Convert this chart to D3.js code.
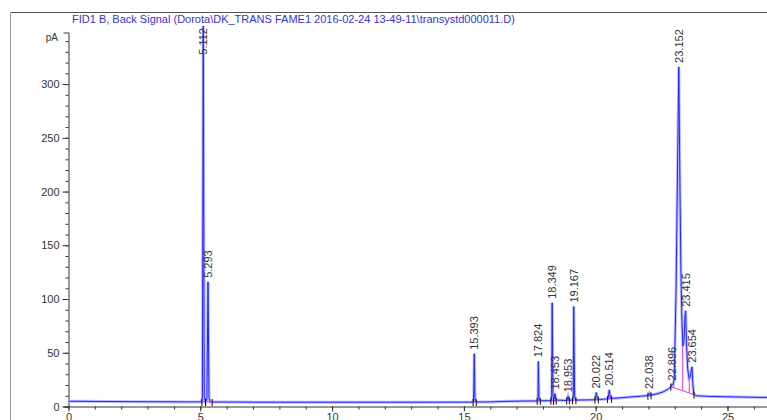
<!DOCTYPE html>
<html>
<head>
<meta charset="utf-8">
<script src="https://cdn.jsdelivr.net/npm/d3@7"></script>
<style>
  body { margin: 0; background: #fff; }
  svg { display: block; font-family: "Liberation Sans", Arial, sans-serif; }
</style>
</head>
<body>
<script>
// chromatogram: [time (min), signal (pA)]
var trace = [
  [0.0, 4.9], [0.5, 4.8], [1.5, 4.6], [2.5, 4.5], [3.5, 4.4], [4.5, 4.3], [5.05, 4.3],
  [5.08, 8], [5.112, 360], [5.15, 10], [5.19, 4.6], [5.25, 6], [5.293, 116], [5.33, 8], [5.38, 4.4], [5.5, 4.2],
  [6.5, 4.1], [8, 4.0], [10, 4.0], [12, 4.0], [13.5, 4.0], [15.34, 4.1],
  [15.37, 6], [15.393, 49], [15.42, 6], [15.47, 4.2], [16, 4.3], [16.5, 4.7], [17, 5.0], [17.4, 5.1], [17.79, 5.2],
  [17.81, 8], [17.824, 42], [17.85, 7], [17.9, 5.3], [18.31, 5.4],
  [18.33, 10], [18.349, 96.5], [18.38, 9], [18.42, 7], [18.453, 12], [18.49, 6], [18.88, 5.6],
  [18.92, 6.5], [18.953, 9.5], [18.99, 6], [19.13, 5.8], [19.15, 10], [19.167, 93], [19.2, 9], [19.25, 6.0],
  [19.6, 6.1], [19.98, 6.3], [20.022, 13], [20.07, 6.6], [20.3, 6.8], [20.47, 7.1], [20.514, 15.5], [20.56, 7.5],
  [20.9, 8.0], [21.3, 8.8], [21.7, 9.6], [22.0, 10.2], [22.038, 12.5], [22.08, 10.5], [22.3, 11.6], [22.55, 13.5],
  [22.75, 16.2], [22.87, 18.8], [22.896, 20.5], [22.94, 20.8], [22.98, 26],
  [23.05, 110], [23.152, 316], [23.19, 220], [23.23, 130], [23.27, 80], [23.31, 56], [23.35, 62], [23.39, 85],
  [23.415, 89], [23.44, 60], [23.49, 35], [23.54, 26], [23.58, 27], [23.62, 33], [23.654, 37], [23.68, 22],
  [23.72, 12], [23.8, 10], [24.2, 9.5], [25, 9.0], [26, 8.6], [27, 8.3], [28, 8.1]
];

// peak table
var peakRT   = [5.112, 5.293, 15.393, 17.824, 18.349, 18.453, 18.953, 19.167, 20.022, 20.514, 22.038, 22.896, 23.152, 23.415, 23.654];
var peakApex = [360, 116, 49, 42, 96.5, 12, 9.5, 93, 13, 15.5, 12.5, 20.5, 316, 89, 37];

// integration baselines (pink) with start/end marks
var baseT0 = [5.06, 5.2, 15.35, 17.78, 18.3, 18.4, 18.9, 19.12, 19.97, 20.45, 21.98, 22.85];
var baseV0 = [4.3, 4.3, 4.1, 5.2, 5.3, 5.4, 5.6, 5.8, 6.3, 7.0, 10.0, 18.5];
var baseT1 = [5.2, 5.45, 15.47, 17.9, 18.4, 18.5, 19.0, 19.25, 20.1, 20.6, 22.1, 23.73];
var baseV1 = [4.3, 4.2, 4.1, 5.2, 5.4, 5.5, 5.7, 5.9, 6.5, 7.3, 10.5, 11.0];

// drop lines splitting the fused peaks
var dropT    = [22.96, 23.30, 23.55];
var dropBase = [17.6, 14.9, 12.8];
var dropTop  = [20.5, 56, 26];

var xTicks = [0, 5, 10, 15, 20, 25];
var yTicks = [0, 50, 100, 150, 200, 250, 300];

var title = "FID1 B, Back Signal (Dorota\\DK_TRANS FAME1 2016-02-24 13-49-11\\transystd000011.D)";

var width = 767, height = 420;

var svg = d3.select("body").append("svg")
    .attr("width", width)
    .attr("height", height);

// outer frame
svg.append("line").attr("x1", 10).attr("x2", width).attr("y1", 12.5).attr("y2", 12.5)
    .attr("stroke", "#555").attr("stroke-width", 1);
svg.append("line").attr("x1", 10.5).attr("x2", 10.5).attr("y1", 12).attr("y2", height)
    .attr("stroke", "#999").attr("stroke-width", 1);

svg.append("text")
    .attr("x", 72).attr("y", 23)
    .attr("fill", "#3434d0")
    .style("font-size", "11px")
    .text(title);

var x = d3.scaleLinear().domain([0, 28]).range([68.5, 68.5 + 28 * 26.36]),
    y = d3.scaleLinear().domain([0, 348]).range([406.5, 32.5]);

// y axis
svg.append("g")
    .attr("transform", "translate(" + 68.5 + ",0)")
    .call(d3.axisLeft(y).tickValues(d3.range(0, 341, 10)).tickSize(3).tickSizeOuter(0).tickFormat(""))
    .call(function(g) { g.select(".domain").remove(); });

var yAxis = svg.append("g")
    .attr("transform", "translate(" + 68.5 + ",0)")
    .call(d3.axisLeft(y).tickValues(yTicks).tickSize(6).tickSizeOuter(5).tickPadding(3));
yAxis.selectAll("text").style("font-size", "11px").attr("fill", "#333");

svg.append("text")
    .attr("x", 58).attr("y", 41)
    .attr("text-anchor", "end")
    .attr("fill", "#333")
    .style("font-size", "10px")
    .text("pA");

// x axis
svg.append("g")
    .attr("transform", "translate(0," + 406.5 + ")")
    .call(d3.axisBottom(x).tickValues(d3.range(0, 29, 1)).tickSize(3).tickSizeOuter(0).tickFormat(""))
    .call(function(g) { g.select(".domain").remove(); });

var xAxis = svg.append("g")
    .attr("transform", "translate(0," + 406.5 + ")")
    .call(d3.axisBottom(x).tickValues(xTicks).tickSize(5).tickSizeOuter(0).tickPadding(2));
xAxis.selectAll("text").style("font-size", "11px").attr("fill", "#333");

svg.selectAll(".domain, .tick line").attr("stroke", "#333");

// signal
svg.append("clipPath").attr("id", "plot")
  .append("rect").attr("x", 11).attr("y", 26).attr("width", width).attr("height", 381);

var line = d3.line()
    .x(function(d) { return x(d[0]); })
    .y(function(d) { return y(d[1]); });

var sig = svg.append("g").attr("clip-path", "url(#plot)");

sig.append("path").datum(trace)
    .attr("d", line)
    .attr("fill", "none")
    .attr("stroke", "#b9bcff")
    .attr("stroke-width", 3);

sig.append("path").datum(trace)
    .attr("d", line)
    .attr("fill", "none")
    .attr("stroke", "#2424ff")
    .attr("stroke-width", 1);

// integration baselines
sig.selectAll(".base")
    .data(baseT0)
  .enter().append("line")
    .attr("class", "base")
    .attr("x1", function(d) { return x(d); })
    .attr("y1", function(d, i) { return y(baseV0[i]); })
    .attr("x2", function(d, i) { return x(baseT1[i]); })
    .attr("y2", function(d, i) { return y(baseV1[i]); })
    .attr("stroke", "#ee33cc")
    .attr("stroke-width", 1);

sig.selectAll(".drop")
    .data(dropT)
  .enter().append("line")
    .attr("class", "drop")
    .attr("x1", function(d) { return x(d); })
    .attr("x2", function(d) { return x(d); })
    .attr("y1", function(d, i) { return y(dropBase[i]); })
    .attr("y2", function(d, i) { return y(dropTop[i]); })
    .attr("stroke", "#ee33cc")
    .attr("stroke-width", 1);

// start / end marks
var marks = baseT0.map(function(t, i) { return [t, baseV0[i]]; })
    .concat(baseT1.map(function(t, i) { return [t, baseV1[i]]; }));

sig.selectAll(".mark")
    .data(marks)
  .enter().append("line")
    .attr("class", "mark")
    .attr("x1", function(d) { return x(d[0]); })
    .attr("x2", function(d) { return x(d[0]); })
    .attr("y1", function(d) { return y(d[1]) - 3; })
    .attr("y2", function(d) { return y(d[1]) + 4; })
    .attr("stroke", "#111")
    .attr("stroke-width", 1);

// peak labels
svg.selectAll(".rt")
    .data(peakRT)
  .enter().append("text")
    .attr("class", "rt")
    .style("font-size", "11px")
    .attr("fill", "#333")
    .text(function(d) { return d3.format(".3f")(d); })
    .attr("transform", function(d, i) {
      var len = this.getComputedTextLength();
      var yy = Math.max(y(peakApex[i]) - 4, 28 + len);
      return "translate(" + (x(d) + 4) + "," + yy + ") rotate(-90)";
    });
</script>
</body>
</html>
